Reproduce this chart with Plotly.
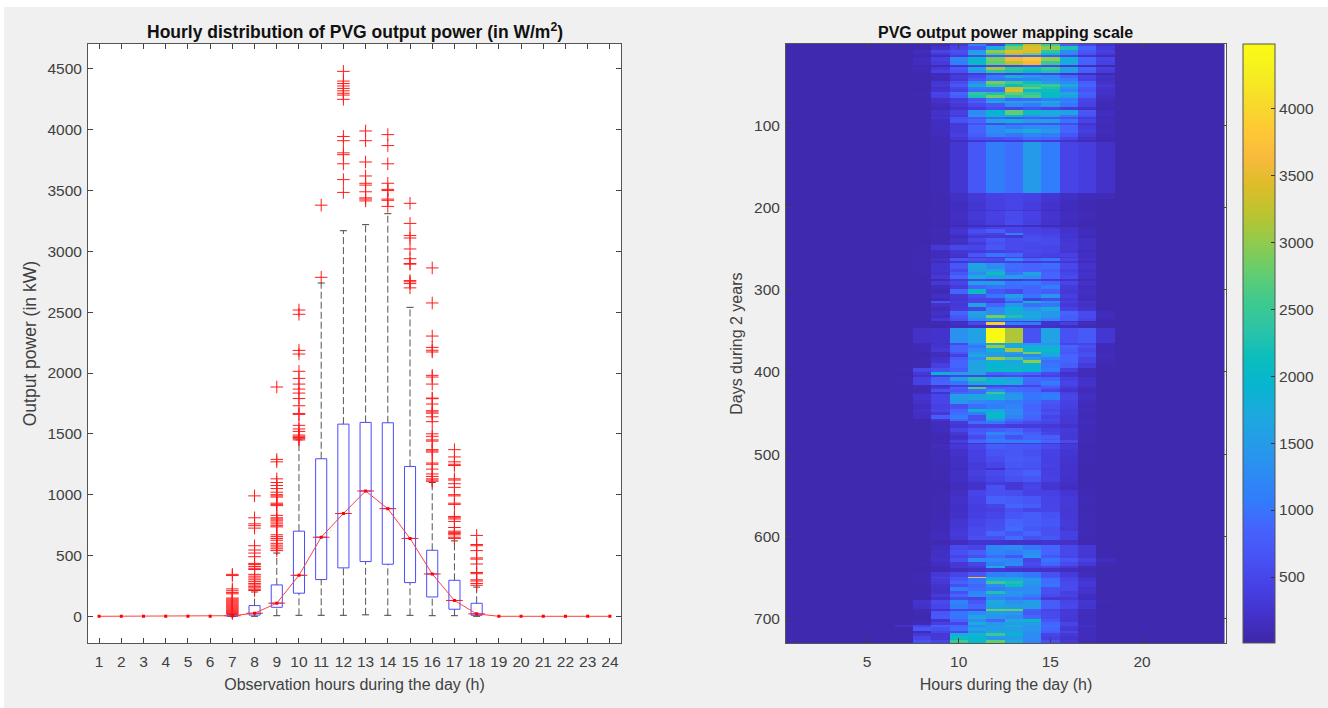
import plotly.graph_objects as go

W, H = 1328, 708

# ---------- left chart data ----------
hours = list(range(1, 25))
box_hours = [7, 8, 9, 10, 11, 12, 13, 14, 15, 16, 17, 18]
q1 = [0, 10, 74, 190, 302, 398, 450, 428, 277, 159, 58, 8]
q3 = [15, 88, 258, 700, 1295, 1580, 1594, 1591, 1232, 543, 296, 107]
whisker_low = [0, 0, 5, 8, 8, 8, 12, 8, 8, 5, 5, 0]
whisker_high = [20, 200, 520, 1450, 2740, 3170, 3220, 3310, 2540, 1100, 620, 240]
medians = [0, 0, 0, 0, 0, 0, 5, 25, 108, 337, 650, 845, 1030, 885, 640, 348, 130, 20, 0, 0, 0, 0, 0, 0]

out_7 = [22, 30, 38, 46, 54, 62, 70, 78, 86, 94, 102, 110, 118, 126, 134, 142, 150, 185, 195, 210, 225, 335, 345]
out_8 = [990, 810, 760, 745, 725, 580, 545, 520, 490, 435, 425, 410, 395, 385, 345, 330, 315, 300, 285, 270, 258, 246, 234, 222, 212]
out_9 = [1885, 1290, 1270, 1130, 1100, 1075, 1050, 1020, 1000, 990, 980, 930, 920, 910, 830, 810, 800, 790, 775, 760, 745, 735, 670, 655, 640, 625, 600, 585, 570, 555, 540]
out_10 = [2518, 2483, 2186, 2156, 2014, 1956, 1909, 1868, 1835, 1790, 1731, 1668, 1660, 1570, 1540, 1520, 1490, 1480, 1470, 1460, 1450]
out_11 = [3380, 2787]
out_12 = [4480, 4400, 4380, 4360, 4340, 4320, 4300, 4285, 4250, 3945, 3910, 3810, 3795, 3720, 3590, 3485]
out_13 = [3990, 3910, 3735, 3620, 3560, 3545, 3490, 3440, 3430, 3415]
out_14 = [3960, 3870, 3720, 3560, 3510, 3500, 3430, 3420, 3370]
out_15 = [3395, 3230, 3130, 3110, 3020, 2940, 2900, 2895, 2760, 2750, 2735, 2700]
out_16 = [2864, 2576, 2304, 2211, 2187, 2173, 1981, 1967, 1909, 1794, 1789, 1745, 1690, 1680, 1670, 1640, 1600, 1500, 1480, 1450, 1440, 1370, 1360, 1350, 1260, 1250, 1210, 1170, 1150, 1130, 1120, 1110]
out_17 = [1370, 1310, 1270, 1250, 1240, 1130, 1120, 1090, 1060, 1000, 990, 930, 920, 820, 810, 800, 780, 730, 700, 690, 680, 670, 650, 640]
out_18 = [665, 590, 580, 540, 480, 470, 430, 360, 350, 300, 290, 270, 255]
outliers = [out_7, out_8, out_9, out_10, out_11, out_12, out_13, out_14, out_15, out_16, out_17, out_18]

y_ticks_left = [0, 500, 1000, 1500, 2000, 2500, 3000, 3500, 4000, 4500]

# ---------- right chart data: first day of each band, then power for hours 7..18 ----------
band_hours = [7, 8, 9, 10, 11, 12, 13, 14, 15, 16, 17, 18]
band_days = [
    1, 4, 8, 12, 15, 17, 22, 26, 29, 33, 36, 39, 42, 46, 50, 53, 56, 59, 63, 67, 71, 73, 78, 82, 87, 90, 93, 97,
    100, 104, 110, 114, 118, 120, 183, 190, 193, 203, 204, 215, 221, 224, 227, 231, 234, 237, 242, 246, 252, 256,
    260, 262, 266, 268, 275, 279, 283, 287, 290, 295, 300, 306, 310, 314, 317, 322, 327, 331, 335, 338, 340, 344,
    347, 365, 368, 372, 376, 379, 383, 386, 390, 396, 401, 404, 407, 412, 416, 419, 422, 425, 428, 435, 440, 446,
    449, 453, 458, 461, 464, 469, 474, 478, 482, 484, 487, 489, 495, 503, 510, 518, 520, 527, 535, 538, 544, 552,
    561, 567, 571, 580, 590, 595, 600, 605, 611, 618, 624, 627, 632, 637, 640, 645, 650, 652, 656, 659, 663, 668,
    671, 675, 678, 684, 689, 692, 697, 702, 705, 709, 712, 716, 719, 723, 727,
]
band_power = [
    [50, 60, 90, 300, 1100, 430, 2260, 3220, 2500, 780, 470, 250],
    [50, 60, 200, 470, 700, 1720, 2860, 3450, 2980, 2260, 860, 350],
    [50, 150, 470, 620, 1520, 2980, 3500, 3450, 2380, 1260, 700, 400],
    [50, 100, 300, 540, 1720, 2620, 3220, 2860, 2140, 1180, 620, 350],
    [50, 60, 120, 350, 540, 780, 780, 860, 700, 470, 250, 120],
    [50, 150, 400, 1180, 1920, 2860, 3600, 3800, 2980, 1820, 860, 470],
    [50, 120, 350, 1100, 2020, 2740, 3220, 3600, 2500, 1720, 820, 430],
    [50, 60, 100, 250, 400, 540, 470, 620, 470, 300, 150, 80],
    [50, 100, 300, 700, 1720, 3100, 2380, 2260, 2500, 1620, 860, 400],
    [50, 100, 430, 620, 1420, 2380, 2260, 2020, 2260, 1520, 780, 350],
    [50, 60, 100, 220, 350, 470, 400, 540, 430, 250, 130, 70],
    [50, 60, 120, 350, 540, 1100, 1820, 1420, 1260, 860, 470, 200],
    [50, 60, 100, 300, 700, 1020, 1100, 1180, 1260, 1100, 430, 180],
    [50, 60, 280, 540, 1260, 2860, 2500, 2140, 1520, 1260, 780, 200],
    [50, 60, 300, 700, 1620, 2500, 2140, 2380, 2500, 1720, 860, 300],
    [50, 60, 200, 470, 1100, 1100, 3300, 2740, 2260, 1340, 700, 250],
    [50, 60, 250, 400, 940, 940, 3400, 2020, 2140, 1180, 660, 200],
    [50, 80, 470, 860, 2380, 2260, 2740, 2380, 2020, 1720, 820, 200],
    [50, 70, 430, 780, 2260, 2860, 2380, 2620, 2020, 1520, 740, 180],
    [50, 50, 200, 350, 700, 1260, 860, 940, 1100, 1100, 470, 120],
    [50, 50, 200, 400, 780, 1720, 1620, 1620, 1720, 1180, 470, 100],
    [50, 50, 150, 300, 540, 700, 1260, 1100, 1420, 1020, 430, 100],
    [50, 50, 100, 220, 350, 540, 470, 620, 470, 350, 200, 70],
    [50, 50, 200, 430, 1260, 1920, 2740, 2020, 1720, 1620, 700, 150],
    [50, 50, 180, 350, 1340, 1820, 2020, 1340, 1620, 1020, 620, 120],
    [50, 50, 250, 620, 700, 860, 700, 780, 700, 620, 350, 100],
    [50, 50, 150, 660, 860, 1620, 1820, 1520, 1520, 1020, 470, 130],
    [50, 50, 120, 300, 620, 540, 700, 700, 620, 540, 250, 90],
    [50, 50, 150, 350, 860, 1260, 1100, 1260, 1260, 860, 350, 100],
    [50, 50, 130, 350, 860, 1260, 1520, 1720, 1420, 860, 400, 120],
    [50, 50, 120, 400, 780, 1180, 1020, 1180, 1100, 700, 300, 100],
    [50, 50, 100, 300, 620, 620, 700, 940, 860, 470, 200, 80],
    [50, 50, 90, 150, 250, 300, 300, 350, 300, 200, 120, 60],
    [50, 60, 90, 270, 700, 1100, 950, 1500, 1080, 450, 370, 200],
    [50, 50, 70, 180, 320, 430, 450, 410, 280, 180, 110, 110],
    [50, 50, 80, 170, 300, 400, 470, 400, 260, 150, 90, 50],
    [50, 50, 70, 150, 270, 400, 470, 380, 230, 130, 80, 50],
    [50, 50, 60, 130, 200, 250, 300, 230, 120, 90, 70, 50],
    [50, 50, 70, 170, 320, 410, 540, 430, 260, 150, 90, 50],
    [50, 50, 70, 160, 280, 400, 560, 400, 240, 130, 80, 50],
    [50, 50, 60, 90, 120, 160, 180, 150, 110, 90, 60, 50],
    [50, 50, 80, 200, 350, 430, 470, 430, 300, 200, 100, 50],
    [50, 50, 90, 280, 580, 780, 470, 430, 400, 220, 130, 50],
    [50, 50, 80, 220, 470, 400, 1100, 470, 430, 260, 130, 50],
    [50, 50, 70, 130, 300, 320, 280, 540, 470, 250, 100, 50],
    [50, 50, 80, 200, 470, 700, 540, 580, 540, 280, 180, 50],
    [50, 50, 90, 180, 350, 620, 540, 500, 540, 300, 180, 50],
    [50, 70, 300, 500, 470, 700, 540, 500, 470, 300, 170, 50],
    [50, 60, 120, 280, 350, 400, 470, 540, 470, 280, 130, 50],
    [50, 70, 130, 250, 700, 1020, 860, 470, 430, 430, 180, 50],
    [50, 60, 100, 150, 300, 300, 430, 300, 300, 300, 160, 50],
    [50, 80, 200, 700, 620, 540, 1260, 860, 1020, 470, 200, 50],
    [50, 60, 120, 250, 400, 400, 400, 300, 350, 280, 120, 50],
    [50, 70, 250, 700, 1620, 1260, 940, 860, 940, 500, 220, 50],
    [50, 70, 250, 500, 1520, 1620, 860, 860, 780, 400, 180, 50],
    [50, 70, 200, 700, 1260, 2140, 1020, 1620, 860, 470, 220, 50],
    [50, 60, 300, 860, 1720, 1520, 1520, 1340, 860, 540, 200, 50],
    [50, 50, 100, 300, 470, 400, 300, 400, 300, 200, 100, 50],
    [50, 70, 300, 470, 1520, 1520, 1020, 1100, 860, 470, 200, 50],
    [50, 60, 120, 350, 860, 1020, 940, 860, 1100, 350, 150, 50],
    [50, 50, 100, 860, 2020, 700, 540, 860, 780, 300, 170, 50],
    [50, 60, 180, 300, 620, 1020, 1520, 1020, 1420, 400, 150, 50],
    [50, 50, 100, 280, 470, 470, 1180, 400, 540, 300, 120, 50],
    [50, 60, 620, 350, 470, 400, 700, 2020, 1260, 400, 250, 50],
    [50, 50, 200, 300, 1620, 860, 1420, 940, 1020, 300, 180, 50],
    [50, 50, 120, 350, 470, 1260, 1920, 1420, 1720, 400, 250, 50],
    [50, 60, 200, 860, 1620, 1340, 1720, 1620, 1420, 860, 540, 130],
    [50, 60, 150, 700, 1520, 2860, 2260, 1720, 1420, 780, 540, 120],
    [50, 60, 300, 620, 1260, 1620, 1420, 1520, 1180, 780, 470, 100],
    [50, 50, 60, 120, 300, 470, 400, 300, 200, 200, 100, 50],
    [50, 50, 70, 180, 540, 3900, 1100, 1020, 250, 400, 120, 50],
    [50, 50, 60, 130, 180, 220, 220, 200, 180, 150, 90, 50],
    [50, 200, 220, 1350, 1600, 4450, 3150, 650, 1600, 650, 750, 280],
    [50, 100, 200, 540, 1340, 1620, 1720, 1420, 1420, 470, 470, 130],
    [50, 80, 250, 860, 1020, 2980, 1720, 1720, 1720, 860, 620, 100],
    [50, 100, 300, 860, 1260, 1820, 3100, 2020, 2020, 780, 500, 100],
    [50, 60, 150, 700, 1420, 1520, 1520, 2860, 1820, 700, 580, 100],
    [50, 60, 120, 400, 1720, 1520, 1260, 1180, 1620, 860, 620, 120],
    [50, 70, 200, 780, 1260, 3100, 2620, 1620, 1180, 860, 470, 100],
    [50, 80, 250, 860, 1620, 1820, 1620, 2980, 940, 860, 470, 100],
    [50, 80, 400, 860, 1620, 1920, 1820, 1920, 1020, 780, 350, 80],
    [70, 500, 620, 780, 1620, 2020, 2020, 1920, 1100, 400, 120, 50],
    [60, 300, 1920, 1520, 1620, 860, 940, 860, 540, 200, 120, 50],
    [60, 200, 350, 470, 470, 470, 540, 430, 430, 250, 100, 50],
    [70, 430, 820, 1520, 2260, 1720, 1620, 940, 860, 400, 200, 50],
    [70, 430, 860, 1020, 1620, 1920, 1720, 860, 1100, 470, 220, 50],
    [60, 100, 200, 350, 400, 470, 470, 470, 860, 400, 200, 50],
    [60, 100, 300, 780, 2620, 860, 940, 860, 700, 300, 130, 50],
    [60, 80, 620, 700, 940, 1260, 940, 860, 470, 250, 110, 50],
    [60, 100, 250, 860, 940, 2500, 1260, 1020, 1020, 400, 150, 50],
    [60, 250, 470, 1520, 1620, 1820, 1420, 1020, 1100, 470, 180, 50],
    [50, 200, 470, 1420, 1260, 1180, 1100, 940, 700, 430, 120, 50],
    [50, 150, 430, 620, 940, 1100, 1180, 860, 620, 400, 110, 50],
    [50, 200, 470, 860, 1920, 1620, 1260, 860, 540, 350, 120, 50],
    [50, 170, 300, 940, 1100, 2020, 1260, 940, 620, 350, 110, 50],
    [50, 160, 780, 1100, 620, 2020, 1180, 860, 470, 300, 100, 50],
    [50, 60, 250, 860, 620, 1420, 940, 780, 540, 300, 100, 50],
    [50, 50, 150, 350, 940, 1020, 700, 540, 470, 300, 120, 50],
    [50, 50, 120, 280, 400, 400, 350, 350, 300, 230, 90, 50],
    [50, 50, 130, 470, 700, 780, 860, 620, 400, 350, 100, 50],
    [50, 50, 100, 300, 780, 1180, 1020, 780, 470, 300, 100, 50],
    [50, 50, 70, 200, 540, 940, 620, 860, 780, 300, 100, 50],
    [50, 50, 80, 250, 700, 1100, 780, 860, 700, 280, 90, 50],
    [50, 50, 100, 400, 860, 1100, 1100, 1100, 860, 540, 90, 50],
    [50, 50, 60, 150, 250, 300, 300, 350, 300, 180, 70, 50],
    [50, 50, 120, 300, 470, 780, 700, 700, 540, 320, 80, 50],
    [50, 50, 90, 200, 430, 660, 700, 620, 430, 280, 70, 50],
    [50, 50, 90, 180, 400, 580, 740, 700, 400, 250, 70, 50],
    [50, 50, 80, 170, 350, 470, 700, 660, 410, 230, 60, 50],
    [50, 50, 70, 150, 330, 200, 580, 580, 380, 220, 60, 50],
    [50, 50, 80, 170, 400, 540, 700, 820, 400, 220, 60, 50],
    [50, 50, 70, 170, 350, 470, 620, 700, 420, 200, 60, 50],
    [50, 50, 60, 130, 200, 350, 300, 430, 280, 180, 60, 50],
    [50, 50, 60, 120, 230, 620, 300, 470, 260, 150, 60, 50],
    [50, 50, 70, 180, 470, 620, 580, 430, 410, 280, 80, 50],
    [50, 50, 70, 200, 430, 820, 780, 700, 450, 330, 90, 50],
    [50, 50, 80, 190, 370, 470, 860, 780, 470, 320, 80, 50],
    [50, 50, 80, 190, 380, 400, 620, 470, 470, 300, 80, 50],
    [50, 50, 80, 200, 400, 470, 700, 780, 640, 300, 90, 50],
    [50, 50, 90, 280, 470, 580, 860, 780, 700, 350, 90, 50],
    [50, 50, 100, 300, 540, 620, 940, 700, 620, 300, 90, 50],
    [50, 60, 120, 350, 540, 860, 700, 860, 620, 400, 100, 50],
    [50, 60, 120, 300, 620, 620, 940, 620, 700, 400, 80, 50],
    [50, 50, 70, 150, 250, 250, 200, 200, 250, 200, 70, 50],
    [50, 50, 150, 540, 470, 1180, 1260, 1020, 860, 500, 300, 60],
    [50, 50, 180, 620, 780, 1180, 1100, 1300, 860, 500, 300, 60],
    [50, 60, 180, 470, 620, 940, 700, 1420, 700, 470, 280, 60],
    [50, 60, 200, 620, 1260, 1260, 1180, 470, 1020, 700, 430, 150],
    [50, 70, 150, 300, 470, 1100, 1260, 540, 860, 540, 300, 70],
    [50, 50, 100, 300, 350, 1720, 470, 430, 470, 300, 130, 50],
    [50, 50, 100, 150, 200, 300, 250, 200, 200, 150, 90, 50],
    [50, 80, 300, 470, 700, 1100, 1180, 1020, 620, 350, 120, 50],
    [50, 100, 430, 700, 3700, 1520, 1420, 1100, 700, 470, 180, 50],
    [50, 70, 350, 700, 1020, 1720, 1720, 1520, 940, 470, 250, 50],
    [50, 100, 300, 860, 1020, 2500, 2260, 1420, 940, 540, 300, 50],
    [50, 60, 250, 620, 860, 1260, 2140, 1340, 1020, 540, 300, 60],
    [50, 50, 200, 1100, 940, 1100, 1260, 1260, 620, 540, 250, 50],
    [50, 60, 200, 620, 1180, 2260, 1420, 1340, 620, 400, 220, 50],
    [50, 70, 350, 860, 1260, 1340, 1340, 1100, 540, 430, 150, 50],
    [50, 50, 200, 540, 470, 1180, 1020, 860, 300, 300, 130, 50],
    [50, 250, 540, 1180, 700, 1720, 1340, 1520, 780, 470, 280, 70],
    [50, 200, 470, 1100, 860, 1620, 1520, 1520, 780, 500, 260, 60],
    [50, 100, 250, 470, 470, 2740, 2740, 780, 470, 300, 130, 60],
    [50, 70, 700, 1020, 1260, 1520, 1420, 700, 540, 350, 150, 70],
    [50, 60, 740, 1020, 1620, 1420, 1260, 860, 540, 300, 120, 60],
    [50, 100, 250, 860, 1260, 860, 1720, 2020, 700, 300, 130, 60],
    [50, 90, 400, 470, 1720, 1420, 1520, 1520, 860, 470, 130, 60],
    [200, 470, 780, 860, 1260, 1520, 1720, 1420, 940, 400, 180, 80],
    [60, 700, 620, 940, 1620, 1520, 1520, 1420, 860, 300, 130, 60],
    [60, 120, 470, 540, 1260, 1620, 1620, 1340, 780, 470, 150, 70],
    [50, 300, 300, 1720, 2020, 2500, 1920, 1260, 470, 300, 130, 60],
    [50, 470, 300, 2140, 1920, 1420, 1520, 1260, 400, 250, 120, 60],
    [50, 620, 470, 2500, 2020, 2740, 1720, 1180, 620, 300, 110, 50],
]
background_power = 50
last_day = 730
y_ticks_right = [100, 200, 300, 400, 500, 600, 700]
x_ticks_right = [5, 10, 15, 20]
cbar_ticks = [500, 1000, 1500, 2000, 2500, 3000, 3500, 4000]

parula = [
    (0.2422, 0.1504, 0.6603), (0.2647, 0.1978, 0.7952), (0.2783, 0.2559, 0.8991), (0.2810, 0.3228, 0.9579),
    (0.2699, 0.3892, 0.9906), (0.1963, 0.4847, 0.9892), (0.1764, 0.5499, 0.9520), (0.1460, 0.6091, 0.9079),
    (0.1113, 0.6635, 0.8763), (0.0297, 0.7082, 0.8163), (0.0433, 0.7411, 0.7394), (0.1717, 0.7670, 0.6554),
    (0.2470, 0.7918, 0.5567), (0.3909, 0.8029, 0.4354), (0.5616, 0.7942, 0.3045), (0.7242, 0.7698, 0.1910),
    (0.8634, 0.7406, 0.1596), (0.9728, 0.7298, 0.2394), (0.9952, 0.7893, 0.2028), (0.9676, 0.8639, 0.1643),
    (0.9628, 0.9373, 0.1265), (0.9769, 0.9839, 0.0805),
]
colorscale = [[i / (len(parula) - 1), f"rgb({r*255:.0f},{g*255:.0f},{b*255:.0f})"] for i, (r, g, b) in enumerate(parula)]

# ---------- build the heat matrix from the bands ----------
z = []
band = 0
for day in range(1, last_day + 1):
    while band + 1 < len(band_days) and band_days[band + 1] <= day:
        band += 1
    row = [background_power] * 24
    for h, v in zip(band_hours, band_power[band]):
        row[h - 1] = v
    z.append(row)

# ---------- layout helpers (pixel boxes) ----------
LEFT = (88, 621)
RIGHT = (786, 1226)
TOP, BOTTOM = 44, 643.3
AXIS = "#555555"
TEXT = "#404040"
FONT = "Liberation Sans"


def dom_x(a):
    return [a[0] / W, a[1] / W]


dom_y = [(H - BOTTOM) / H, (H - TOP) / H]

fig = go.Figure()

# whiskers
wx, wy = [], []
for h, lo, a, b, hi in zip(box_hours, whisker_low, q1, q3, whisker_high):
    wx += [h, h, None, h, h, None]
    wy += [lo, a, None, b, hi, None]
fig.add_trace(go.Scatter(x=wx, y=wy, mode="lines", line=dict(color="#555555", width=1, dash="7px,3px"),
                         hoverinfo="skip", showlegend=False))
fig.add_trace(go.Scatter(x=box_hours * 2, y=whisker_low + whisker_high, mode="markers",
                         marker=dict(symbol="line-ew", size=5, line=dict(color="#444444", width=1)),
                         hoverinfo="skip", showlegend=False))
# boxes
fig.add_trace(go.Box(x=box_hours, q1=q1, q3=q3, median=[medians[h - 1] for h in box_hours],
                     lowerfence=q1, upperfence=q3, width=0.5, whiskerwidth=0,
                     line=dict(color="#4a4aff", width=1), fillcolor="rgba(0,0,0,0)",
                     boxpoints=False, showlegend=False))
# outliers
ox, oy = [], []
for h, vals in zip(box_hours, outliers):
    ox += [h] * len(vals)
    oy += vals
fig.add_trace(go.Scatter(x=ox, y=oy, mode="markers",
                         marker=dict(symbol="cross-thin", size=9, line=dict(color="#ff1a1a", width=1)),
                         showlegend=False))
# medians
fig.add_trace(go.Scatter(x=box_hours, y=[medians[h - 1] for h in box_hours], mode="markers",
                         marker=dict(symbol="line-ew", size=12, line=dict(color="#ff2020", width=1)),
                         hoverinfo="skip", showlegend=False))
fig.add_trace(go.Scatter(x=hours, y=medians, mode="lines+markers", line=dict(color="#ff4040", width=1),
                         marker=dict(symbol="square", size=3, color="#ff0000"), showlegend=False))

# heatmap
fig.add_trace(go.Heatmap(x=hours, y=list(range(1, last_day + 1)), z=z, xaxis="x2", yaxis="y2",
                         colorscale=colorscale, zmin=5, zmax=4478,
                         colorbar=dict(x=1242.6 / W, xanchor="left", xpad=0, y=dom_y[0], yanchor="bottom", ypad=0,
                                       len=dom_y[1] - dom_y[0], thickness=32, thicknessmode="pixels",
                                       tickvals=cbar_ticks, ticks="inside", ticklen=4, tickcolor="#333333",
                                       outlinecolor=AXIS, outlinewidth=1,
                                       tickfont=dict(family=FONT, size=15.5, color=TEXT))))

axis_common = dict(showgrid=False, zeroline=False, mirror="ticks", showline=True, linecolor=AXIS, linewidth=1,
                   ticks="inside", ticklen=5, tickcolor="#444444",
                   tickfont=dict(family=FONT, size=15.5, color=TEXT))

fig.update_layout(
    width=W, height=H, margin=dict(l=0, r=0, t=0, b=0, autoexpand=False),
    paper_bgcolor="#f0f0f0", plot_bgcolor="white", showlegend=False,
    xaxis=dict(domain=dom_x(LEFT), range=[0.5, 24.5], tickvals=hours, anchor="y", ticklabelstandoff=4,
               title=dict(text="Observation hours during the day (h)", standoff=9,
                          font=dict(family=FONT, size=16, color=TEXT)), **axis_common),
    yaxis=dict(domain=dom_y, range=[-222, 4705], tickvals=y_ticks_left, anchor="x", ticklabelstandoff=2,
               title=dict(text="Output power (in kW)", standoff=6,
                          font=dict(family=FONT, size=17.5, color=TEXT)), **axis_common),
    xaxis2=dict(domain=dom_x(RIGHT), range=[0.58, 24.58], tickvals=x_ticks_right, anchor="y2", ticklabelstandoff=4,
                title=dict(text="Hours during the day (h)", standoff=9,
                           font=dict(family=FONT, size=16, color=TEXT)), **axis_common),
    yaxis2=dict(domain=dom_y, range=[730.5, 0.5], tickvals=y_ticks_right, anchor="x2", ticklabelstandoff=2,
                title=dict(text="Days during 2 years", standoff=7,
                           font=dict(family=FONT, size=16, color=TEXT)), **axis_common),
    shapes=[
        dict(type="rect", xref="paper", yref="paper", x0=0, x1=1, y0=(H - 7) / H, y1=1,
             fillcolor="white", line=dict(width=0), layer="below"),
        dict(type="rect", xref="paper", yref="paper", x0=0, x1=4 / W, y0=0, y1=1,
             fillcolor="white", line=dict(width=0), layer="below"),
    ],
    annotations=[
        dict(text="<b>Hourly distribution of PVG output power (in W/m<sup>2</sup>)</b>", xref="paper", yref="paper",
             x=355 / W, y=(H - 44) / H, xanchor="center", yanchor="bottom", showarrow=False,
             font=dict(family=FONT, size=17.5, color="#111111")),
        dict(text="<b>PVG output power mapping scale</b>", xref="paper", yref="paper",
             x=1005 / W, y=(H - 43) / H, xanchor="center", yanchor="bottom", showarrow=False,
             font=dict(family=FONT, size=16, color="#111111")),
    ],
)

fig.write_html("out.html", config={"displayModeBar": False},
               post_script="document.body.style.margin='0';document.body.style.overflow='hidden';")
